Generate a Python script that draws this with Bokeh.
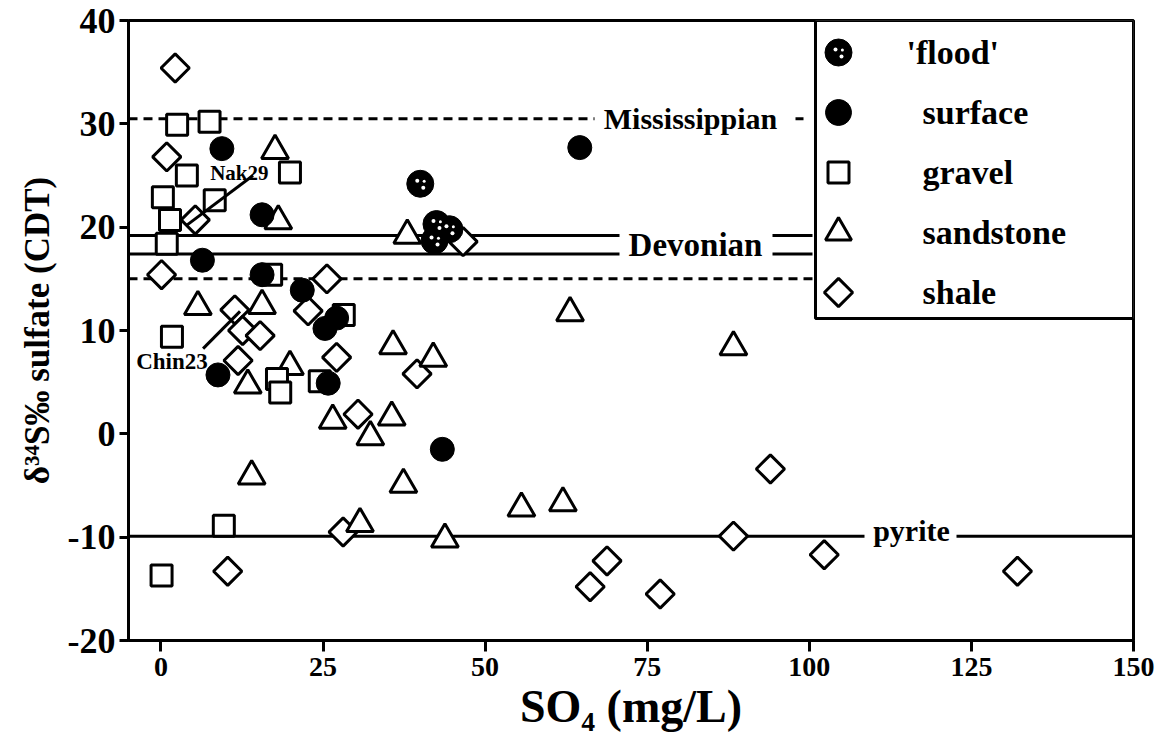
from bokeh.plotting import figure
from bokeh.models import Range1d, FixedTicker, BoxAnnotation, PrintfTickFormatter
from bokeh.core.properties import value
from bokeh.embed import file_html
from bokeh.resources import INLINE

# ---------------- data ----------------
flood_x = [40.0, 42.5, 44.5, 42.2]
flood_y = [24.2, 20.3, 19.8, 18.7]

surface_x = [9.4, 64.6, 15.6, 6.4, 15.6, 21.8, 25.3, 27.1, 8.8, 25.8, 43.4]
surface_y = [27.6, 27.7, 21.2, 16.8, 15.4, 13.9, 10.2, 11.2, 5.7, 4.9, -1.5]

gravel_x = [2.5, 7.5, 4.0, 19.9, 0.3, 8.3, 1.4, 0.9, 17.0, 1.7, 17.9, 18.4, 24.5, 28.2, 9.7, 0.1]
gravel_y = [29.9, 30.2, 25.0, 25.3, 22.9, 22.6, 20.7, 18.4, 15.4, 9.4, 5.3, 4.0, 5.1, 11.5, -8.9, -13.7]

sand_x = [17.6, 18.1, 38.0, 5.7, 15.6, 13.4, 19.9, 26.5, 32.3, 14.0, 35.8, 42.0,
          63.1, 35.6, 37.4, 43.8, 55.6, 62.0, 88.3, 30.7]
sand_y = [27.4, 20.6, 19.2, 12.3, 12.4, 4.7, 6.5, 1.3, -0.3, -4.1, 8.5, 7.3,
          11.7, 1.6, -4.9, -10.2, -7.2, -6.7, 8.4, -8.7]

shale_x = [2.2, 0.9, 5.3, 0.1, 25.6, 11.4, 12.6, 15.3, 11.9, 22.7, 27.1, 30.4,
           39.5, 46.6, 28.1, 10.3, 68.8, 66.2, 77.0, 88.3, 102.3, 94.0, 132.1]
shale_y = [35.4, 26.8, 20.7, 15.4, 15.0, 12.0, 10.0, 9.5, 7.1, 11.9, 7.4, 1.9,
           5.8, 18.6, -9.5, -13.3, -12.3, -14.8, -15.5, -9.9, -11.7, -3.4, -13.3]

# reference isotope values
miss_y = 30.5
dev_y = [19.2, 17.4]
dev_low_y = 15.0
pyrite_y = -9.9

x_ticks = [0, 25, 50, 75, 100, 125, 150]
y_ticks = [-20, -10, 0, 10, 20, 30, 40]

legend_labels = ["'flood'", "surface", "gravel", "sandstone", "shale"]

# ---------------- figure ----------------
W, H = 1164, 743
L, R, T, B = 128, 31, 20, 103
X0, X1, Y0, Y1 = -5, 150, -20, 40
FONT = "Liberation Serif"

p = figure(width=W, height=H, output_backend="svg", toolbar_location=None,
           x_range=Range1d(X0, X1), y_range=Range1d(Y0, Y1),
           min_border_left=L, min_border_right=R, min_border_top=T, min_border_bottom=B)
p.grid.visible = False
p.outline_line_color = "black"
p.outline_line_width = 3
p.background_fill_color = "white"
p.border_fill_color = "white"

for ax in (p.xaxis[0], p.yaxis[0]):
    ax.axis_line_width = 3
    ax.major_tick_line_width = 3
    ax.major_tick_in = 0
    ax.minor_tick_line_color = None
    ax.major_label_text_font = FONT
    ax.major_label_text_font_style = "bold"
    ax.major_label_text_color = "black"
    ax.axis_label_text_font = FONT
    ax.axis_label_text_font_style = "bold"
    ax.axis_label_text_color = "black"
    ax.formatter = PrintfTickFormatter(format="%d")

p.xaxis.major_label_text_font_size = "28px"
p.yaxis.major_label_text_font_size = "36px"
p.xaxis.axis_label_text_font_size = "46px"
p.yaxis.axis_label_text_font_size = "35px"
p.xaxis.ticker = FixedTicker(ticks=x_ticks)
p.yaxis.ticker = FixedTicker(ticks=y_ticks)
p.xaxis.major_tick_out = 11
p.yaxis.major_tick_out = 9
p.xaxis.major_label_standoff = 6
p.yaxis.major_label_standoff = 4
p.xaxis.axis_label = "SO\u2084 (mg/L)"
p.yaxis.axis_label = "\u03b4\u00b3\u2074S\u2030 sulfate (CDT)"
p.xaxis.axis_label_standoff = 2
p.yaxis.axis_label_standoff = 8

def px2x(px):
    return X0 + (px - L) * (X1 - X0) / (W - L - R)

def py2y(py):
    return Y1 - (py - T) * (Y1 - Y0) / (H - T - B)

LW = 3
# ---------------- reference lines ----------------
p.line([X0, px2x(594)], [miss_y, miss_y], line_color="black", line_width=LW, line_dash="9 6")
p.line([px2x(795), px2x(803)], [miss_y, miss_y], line_color="black", line_width=LW)
p.text([px2x(690)], [miss_y], text=["Mississippian"], text_align="center", text_baseline="middle",
       text_font=value(FONT), text_font_style="bold", text_font_size="30px", text_color="black")

for yv in dev_y:
    p.line([X0, px2x(619)], [yv, yv], line_color="black", line_width=LW)
    p.line([px2x(772), px2x(812)], [yv, yv], line_color="black", line_width=LW)
p.text([px2x(695)], [sum(dev_y) / 2], text=["Devonian"], text_align="center", text_baseline="middle",
       text_font=value(FONT), text_font_style="bold", text_font_size="33px", text_color="black")
p.line([X0, px2x(812)], [dev_low_y, dev_low_y], line_color="black", line_width=LW, line_dash="9 6")

p.line([X0, px2x(864)], [pyrite_y, pyrite_y], line_color="black", line_width=LW)
p.line([px2x(956), X1], [pyrite_y, pyrite_y], line_color="black", line_width=LW)
p.text([px2x(911)], [pyrite_y + 0.5], text=["pyrite"], text_align="center", text_baseline="middle",
       text_font=value(FONT), text_font_style="bold", text_font_size="30px", text_color="black")

# ---------------- data markers ----------------
p.scatter(shale_x, shale_y, marker="square", angle=0.785398, size=20, fill_color="white",
          line_color="black", line_width=LW)
p.scatter(sand_x, sand_y, marker="triangle", size=27, fill_color="white",
          line_color="black", line_width=LW)
p.scatter(gravel_x, gravel_y, marker="square", size=21, fill_color="white",
          line_color="black", line_width=LW)
p.scatter(surface_x, surface_y, marker="circle", size=24, fill_color="black",
          line_color="black", line_width=1)
p.scatter(flood_x, flood_y, marker="circle", size=27, fill_color="black",
          line_color="black", line_width=1)
dx, dy = 3 * (X1 - X0) / (W - L - R), 3 * (Y1 - Y0) / (H - T - B)
p.scatter([v - dx for v in flood_x], [v + dy for v in flood_y], marker="circle", size=4,
          fill_color="white", line_color=None)
p.scatter([v + dx for v in flood_x], [v - 1.3 * dy for v in flood_y], marker="circle", size=4,
          fill_color="white", line_color=None)
p.scatter([v + 1.3 * dx for v in flood_x], [v + 0.8 * dy for v in flood_y], marker="circle", size=3,
          fill_color="white", line_color=None)

# ---------------- sample labels ----------------
p.line([4.0, 14.2], [20.2, 25.0], line_color="black", line_width=LW)
p.text([7.6], [25.2], text=["Nak29"], text_align="left", text_baseline="middle",
       text_font=value(FONT), text_font_style="bold", text_font_size="21px", text_color="black")
p.line([6.5, 12.2], [8.25, 11.85], line_color="black", line_width=LW)
p.text([1.7], [7.0], text=["Chin23"], text_align="center", text_baseline="middle",
       text_font=value(FONT), text_font_style="bold", text_font_size="23px", text_color="black")

# ---------------- legend ----------------
box = BoxAnnotation(left=px2x(815), right=X1, top=Y1, bottom=py2y(318),
                    fill_color="white", fill_alpha=1.0, line_color="black", line_alpha=1.0,
                    line_width=LW, level="underlay")
p.add_layout(box)

leg_py = [52 + 60 * i for i in range(5)]
lx = px2x(838)
ly = [py2y(v) for v in leg_py]
p.scatter([lx], [ly[0]], marker="circle", size=27, fill_color="black", line_color="black")
p.scatter([lx - dx], [ly[0] + dy], marker="circle", size=4, fill_color="white", line_color=None)
p.scatter([lx + dx], [ly[0] - 1.3 * dy], marker="circle", size=4, fill_color="white", line_color=None)
p.scatter([lx + 1.3 * dx], [ly[0] + 0.8 * dy], marker="circle", size=3, fill_color="white", line_color=None)
p.scatter([lx], [ly[1]], marker="circle", size=26, fill_color="black", line_color="black")
p.scatter([lx], [ly[2]], marker="square", size=21, fill_color="white", line_color="black", line_width=LW)
p.scatter([lx], [ly[3]], marker="triangle", size=26, fill_color="white", line_color="black", line_width=LW)
p.scatter([lx], [ly[4]], marker="square", angle=0.785398, size=20, fill_color="white",
          line_color="black", line_width=LW)
p.text([px2x(906)] + [px2x(922)] * 4, ly, text=legend_labels, text_align="left", text_baseline="middle",
       text_font=value(FONT), text_font_style="bold", text_font_size="34px", text_color="black")

open("out.html", "w").write(file_html(p, INLINE))
